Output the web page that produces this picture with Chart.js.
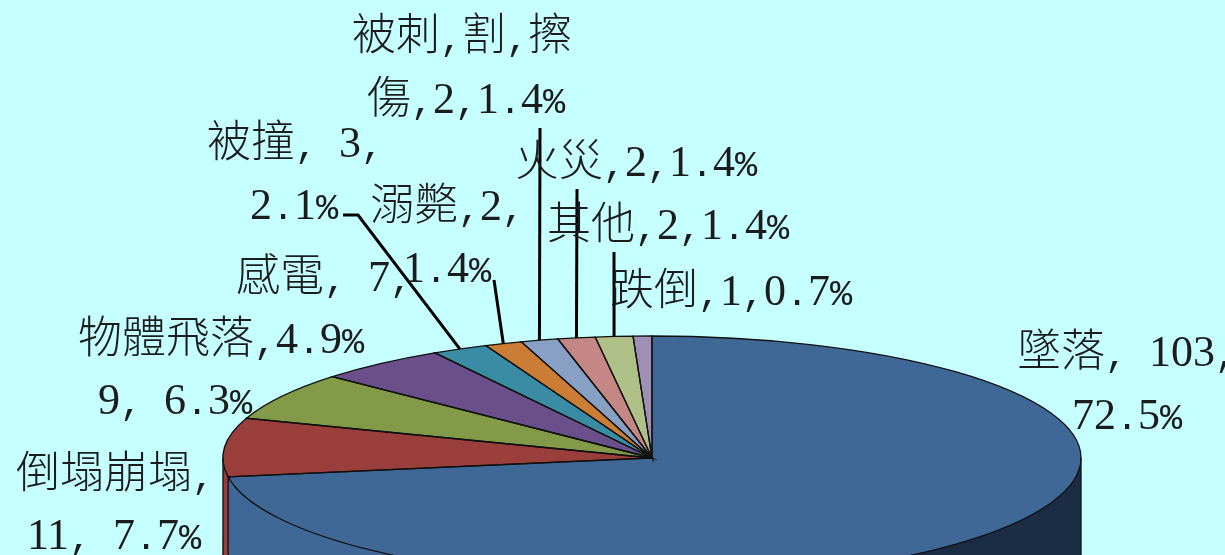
<!DOCTYPE html>
<html>
<head>
<meta charset="utf-8">
<style>
    /* half-width slots: serif digits, mono punctuation, both on a 22px step at 44px */
    @font-face {
        font-family: "HalfDigits";
        src: local("Liberation Mono");
        size-adjust: 83.3%;
    }
    @font-face {
        font-family: "HalfDigits";
        src: local("Liberation Serif");
        size-adjust: 100%;
        unicode-range: U+30-39;
    }
    html, body { margin: 0; padding: 0; background: #c6ffff; overflow: hidden; }
    canvas { display: block; }
</style>
<script src="https://cdn.jsdelivr.net/npm/chart.js@4"></script>
</head>
<body>
<canvas id="myChart" width="1225" height="555"></canvas>
<script>
var categories = ["墜落", "倒塌崩塌", "物體飛落", "感電", "被撞", "溺斃", "被刺,割,擦傷", "火災", "其他", "跌倒"];
var counts = [103, 11, 9, 7, 3, 2, 2, 2, 2, 1];
var barColors = ["#406897", "#9b3f3c", "#839a48", "#6b4f8a", "#3a8ca5", "#cc7d35", "#88a0c4", "#c58786", "#aebf88", "#9f8fb4"];
var darkSide = "#1b2d45";

// label rows as they sit in the picture (some overlap in the original too)
var labelRows = ["被刺,割,擦", "傷,2,1.4%", "被撞, 3,", "2.1%", "溺斃,2,", "1.4%", "火災,2,1.4%", "其他,2,1.4%", "跌倒,1,0.7%", "感電, 7,", "4.9%", "物體飛落,", "9, 6.3%", "倒塌崩塌,", "11, 7.7%", "墜落, 103,", "72.5%"];
var labelX = [352, 367, 207, 250, 370, 403, 515, 547, 610, 236, 276, 78, 98, 16, 27, 1017, 1072];
var labelY = [50, 113, 157, 219, 220, 282, 176, 239, 305, 291, 353, 353, 414, 488, 549, 366, 429];

// leader lines: slice index, then the free end of the line
var leaderSlices = [4, 5, 6, 7, 8];
var leaderEnds = [[[343, 215], [358, 215]], [[494, 280]], [[540, 128]], [[577, 189]], [[614, 252]]];

var squash = 122 / 429;
var depth = 140;

function tiltedPath(ctx, el, offsetY) {
    ctx.beginPath();
    ctx.moveTo(el.x, el.y + offsetY);
    ctx.ellipse(el.x, el.y + offsetY, el.outerRadius, el.outerRadius * squash, 0, el.startAngle, el.endAngle);
    ctx.closePath();
}

function rimPoint(el, angle) {
    return [el.x + el.outerRadius * Math.cos(angle), el.y + el.outerRadius * squash * Math.sin(angle)];
}

var tiltPlugin = {
    id: "tilt",
    beforeDatasetsDraw: function (chart) {
        var ctx = chart.ctx;
        var arcs = chart.getDatasetMeta(0).data;
        var cx = arcs[0].x;
        // side wall: left part keeps the slice colour, right part is in shade
        var blueSide = ctx.createLinearGradient(cx - 1, 0, cx + 1, 0);
        blueSide.addColorStop(0, barColors[0]);
        blueSide.addColorStop(1, darkSide);
        for (var d = depth; d > 0; d--) {
            arcs.forEach(function (el, i) {
                ctx.fillStyle = i === 0 ? blueSide : barColors[i];
                tiltedPath(ctx, el, d);
                ctx.fill();
            });
        }
        ctx.save();
        ctx.translate(0, arcs[0].y);
        ctx.scale(1, squash);
        ctx.translate(0, -arcs[0].y);
    },
    afterDatasetsDraw: function (chart) {
        var ctx = chart.ctx;
        ctx.restore();
        var arcs = chart.getDatasetMeta(0).data;

        ctx.strokeStyle = "#111";
        ctx.lineWidth = 1.3;
        arcs.forEach(function (el) {
            tiltedPath(ctx, el, 0);
            ctx.stroke();
        });
        // vertical edges of the wall
        var first = arcs[0];
        var edge = rimPoint(first, first.endAngle);
        ctx.beginPath();
        ctx.moveTo(edge[0], edge[1]);
        ctx.lineTo(edge[0], 555);
        ctx.moveTo(first.x + first.outerRadius, first.y);
        ctx.lineTo(first.x + first.outerRadius, 555);
        ctx.moveTo(first.x - first.outerRadius, first.y);
        ctx.lineTo(first.x - first.outerRadius, 555);
        ctx.stroke();

        ctx.strokeStyle = "#000";
        ctx.lineWidth = 3;
        leaderSlices.forEach(function (slice, i) {
            var el = arcs[slice];
            var end = rimPoint(el, (el.startAngle + el.endAngle) / 2);
            ctx.beginPath();
            leaderEnds[i].forEach(function (p, j) {
                if (j === 0) ctx.moveTo(p[0], p[1]);
                else ctx.lineTo(p[0], p[1]);
            });
            ctx.lineTo(end[0], end[1]);
            ctx.stroke();
        });

        ctx.fillStyle = "#1c1c1c";
        ctx.font = '300 44px "HalfDigits", "Noto Sans CJK TC"';
        ctx.textAlign = "left";
        ctx.textBaseline = "alphabetic";
        labelRows.forEach(function (row, i) {
            ctx.fillText(row, labelX[i], labelY[i]);
        });
    }
};

function drawChart() {
    new Chart("myChart", {
        type: "pie",
        data: {
            labels: categories,
            datasets: [{
                backgroundColor: barColors,
                data: counts,
                borderWidth: 0,
                radius: 429,
                clip: false
            }]
        },
        options: {
            responsive: false,
            animation: false,
            events: [],
            layout: { padding: { left: 79, top: 361, right: 0, bottom: 0 } },
            plugins: {
                legend: { display: false },
                tooltip: { enabled: false }
            }
        },
        plugins: [tiltPlugin]
    });
}

document.fonts.load('300 44px "HalfDigits"', "0,%").then(drawChart, drawChart);
</script>
</body>
</html>
